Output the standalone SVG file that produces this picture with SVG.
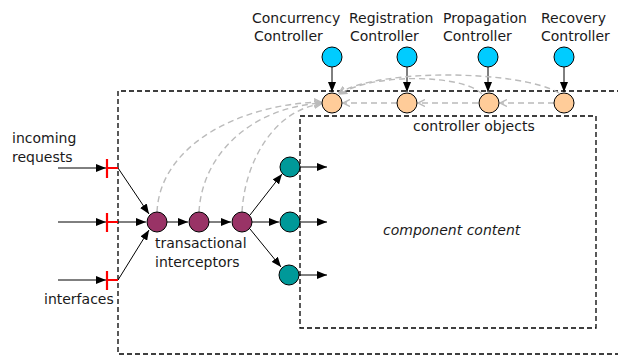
<svg xmlns="http://www.w3.org/2000/svg" width="618" height="356" viewBox="0 0 618 356">
<style>
text{font-family:"DejaVu Sans",Verdana,sans-serif;font-size:14px;fill:#1a1a1a}
.box{fill:none;stroke:#000;stroke-width:1.3;stroke-dasharray:5,3}
.ln{stroke:#000;stroke-width:1;fill:none}
.gd{stroke:#bbb;stroke-width:1.4;fill:none;stroke-dasharray:6,4}
.red{stroke:#ff0000;stroke-width:2.2;fill:none}
.blue{fill:#00ccff;stroke:#000;stroke-width:1}
.org{fill:#ffcc99;stroke:#000;stroke-width:1}
.mar{fill:#993366;stroke:#000;stroke-width:1}
.teal{fill:#009999;stroke:#000;stroke-width:1}
</style>
<defs>
<marker id="ah" markerUnits="userSpaceOnUse" markerWidth="10" markerHeight="8" refX="10" refY="4" orient="auto"><path d="M0,0 L10,4 L0,8 z" fill="#000"/></marker>
<marker id="gh" markerUnits="userSpaceOnUse" markerWidth="8" markerHeight="8" refX="7" refY="4" orient="auto"><path d="M0,0.5 L7,4 L0,7.5" fill="none" stroke="#bbb" stroke-width="1.4"/></marker>
</defs>
<g id="outer-box"><path class="box" d="M630,91 H118 V354 H630"/></g>
<g id="component-content"><rect class="box" x="300" y="116" width="296" height="212"/><text x="383" y="235" font-style="italic">component content</text></g>
<g id="connectors">
<line class="ln" x1="58" y1="168" x2="106" y2="168" marker-end="url(#ah)"/>
<line class="ln" x1="58" y1="222" x2="106" y2="222" marker-end="url(#ah)"/>
<line class="ln" x1="58" y1="280" x2="106" y2="280" marker-end="url(#ah)"/>
<line class="ln" x1="118" y1="168" x2="149" y2="214" marker-end="url(#ah)"/>
<line class="ln" x1="118" y1="222" x2="146" y2="222" marker-end="url(#ah)"/>
<line class="ln" x1="118" y1="280" x2="149" y2="230" marker-end="url(#ah)"/>
<line class="ln" x1="167" y1="222" x2="188" y2="222" marker-end="url(#ah)"/>
<line class="ln" x1="209" y1="222" x2="231" y2="222" marker-end="url(#ah)"/>
<line class="ln" x1="250" y1="215" x2="282" y2="174" marker-end="url(#ah)"/>
<line class="ln" x1="252" y1="222" x2="279" y2="222" marker-end="url(#ah)"/>
<line class="ln" x1="250" y1="229" x2="281" y2="267" marker-end="url(#ah)"/>
<line class="ln" x1="300" y1="167" x2="327" y2="167" marker-end="url(#ah)"/>
<line class="ln" x1="300" y1="222" x2="327" y2="222" marker-end="url(#ah)"/>
<line class="ln" x1="299" y1="275" x2="327" y2="275" marker-end="url(#ah)"/>
<line class="ln" x1="332" y1="67" x2="332" y2="92" marker-end="url(#ah)"/>
<line class="ln" x1="407" y1="67" x2="407" y2="92" marker-end="url(#ah)"/>
<line class="ln" x1="488" y1="67" x2="488" y2="92" marker-end="url(#ah)"/>
<line class="ln" x1="564" y1="67" x2="564" y2="92" marker-end="url(#ah)"/>
<line class="gd" x1="554" y1="103" x2="500" y2="103" marker-end="url(#gh)"/>
<line class="gd" x1="478" y1="103" x2="418" y2="103" marker-end="url(#gh)"/>
<line class="gd" x1="397" y1="103" x2="343" y2="103" marker-end="url(#gh)"/>
<path class="gd" d="M559,93 C520,70 380,68 339,93" marker-end="url(#gh)"/>
<path class="gd" d="M482,94 C465,75 375,72 340,94" marker-end="url(#gh)"/>
<path class="gd" d="M157,212 C160,145 240,104 321,102" marker-end="url(#gh)"/>
<path class="gd" d="M199,212 C202,155 250,108 321,103" marker-end="url(#gh)"/>
<path class="gd" d="M242,212 C245,160 275,110 321,104" marker-end="url(#gh)"/>
</g>
<g id="interface-1"><path class="red" d="M107,159 V178 M107,168 H118"/></g>
<g id="interface-2"><path class="red" d="M107,213 V232 M107,222 H118"/></g>
<g id="interface-3"><path class="red" d="M107,271 V290 M107,280 H118"/></g>
<g id="interceptor-1"><circle class="mar" cx="157" cy="222" r="10"/></g>
<g id="interceptor-2"><circle class="mar" cx="199" cy="222" r="10"/></g>
<g id="interceptor-3"><circle class="mar" cx="242" cy="222" r="10"/></g>
<g id="content-1"><circle class="teal" cx="290" cy="167" r="10"/></g>
<g id="content-2"><circle class="teal" cx="290" cy="222" r="10"/></g>
<g id="content-3"><circle class="teal" cx="289" cy="275" r="10"/></g>
<g id="concurrency"><circle class="blue" cx="332" cy="57" r="10"/><text x="252" y="23">Concurrency</text><text x="254" y="41">Controller</text></g>
<g id="registration"><circle class="blue" cx="407" cy="57" r="10"/><text x="349" y="23">Registration</text><text x="350" y="41">Controller</text></g>
<g id="propagation"><circle class="blue" cx="488" cy="57" r="10"/><text x="443" y="23">Propagation</text><text x="443" y="41">Controller</text></g>
<g id="recovery"><circle class="blue" cx="564" cy="57" r="10"/><text x="541" y="23">Recovery</text><text x="541" y="41">Controller</text></g>
<g id="ctrl-obj-1"><circle class="org" cx="332" cy="103" r="10"/></g>
<g id="ctrl-obj-2"><circle class="org" cx="407" cy="103" r="10"/></g>
<g id="ctrl-obj-3"><circle class="org" cx="489" cy="103" r="10"/></g>
<g id="ctrl-obj-4"><circle class="org" cx="564" cy="103" r="10"/></g>
<g id="labels">
<text x="413" y="131">controller objects</text>
<text x="12" y="143">incoming</text>
<text x="12" y="162">requests</text>
<text x="155" y="248">transactional</text>
<text x="155" y="267">interceptors</text>
<text x="44" y="304">interfaces</text>
</g>
</svg>
